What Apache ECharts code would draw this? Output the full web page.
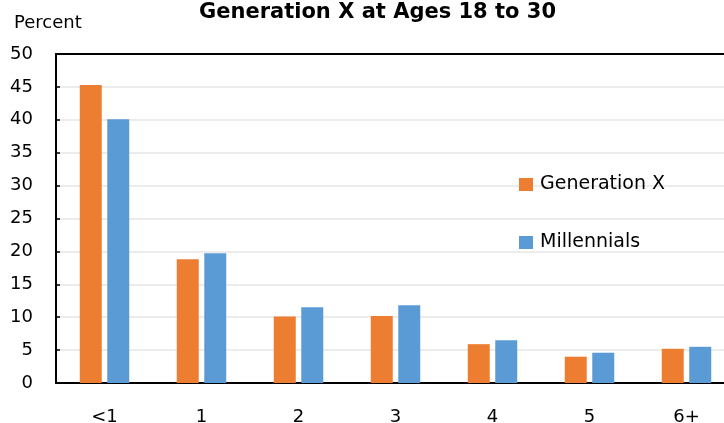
<!DOCTYPE html>
<html>
<head>
<meta charset="utf-8">
<script src="https://cdn.jsdelivr.net/npm/echarts@6/dist/echarts.min.js"></script>
<style>
  html, body { margin: 0; padding: 0; background: #fff; }
  #chart { width: 724px; height: 423px; }
</style>
</head>
<body>
<div id="chart"></div>
<script>
// Years spent at one employer, share of workers ages 18 to 30
const categories = ['<1', '1', '2', '3', '4', '5', '6+'];
const genX = [45.3, 18.8, 10.1, 10.2, 5.9, 4.0, 5.2];
const millennials = [40.1, 19.7, 11.5, 11.8, 6.5, 4.6, 5.5];
const yTicks = { min: 0, max: 50, step: 5 };

const FONT = '"DejaVu Sans", "Open Sans", sans-serif';
const chart = echarts.init(document.getElementById('chart'), null, { renderer: 'canvas' });

const legendItem = (name, top) => ({
  data: [name],
  left: 519,
  top: top,
  padding: 0,
  icon: 'rect',
  itemWidth: 14,
  itemHeight: 13,
  itemGap: 0,
  textStyle: { fontFamily: FONT, fontSize: 19, color: '#000', padding: [0, 0, 0, 2] }
});

chart.setOption({
  animation: false,
  backgroundColor: '#ffffff',
  title: [
    {
      text: 'Generation X at Ages 18 to 30',
      left: 194,
      top: -3,
      textStyle: { fontFamily: FONT, fontSize: 21, fontWeight: 'bold', color: '#000' }
    },
    {
      text: 'Percent',
      left: 9,
      top: 9,
      textStyle: { fontFamily: FONT, fontSize: 18, fontWeight: 'normal', color: '#000' }
    }
  ],
  legend: [
    legendItem('Generation X', 175),
    legendItem('Millennials', 233)
  ],
  grid: {
    left: 56,
    top: 54,
    right: -11,
    bottom: 40,
    outerBoundsMode: 'none',
    containLabel: false,
    show: false
  },
  xAxis: [
    {
      type: 'category',
      data: categories,
      axisLine: { lineStyle: { color: '#000', width: 2 } },
      axisTick: { show: false },
      axisLabel: { fontFamily: FONT, fontSize: 18, color: '#000', margin: 25 }
    },
    {
      // frame line along the top of the plot
      type: 'category',
      data: categories,
      position: 'top',
      axisLine: { show: true, lineStyle: { color: '#000', width: 2 } },
      axisTick: { show: false },
      axisLabel: { show: false },
      splitLine: { show: false }
    }
  ],
  yAxis: {
    type: 'value',
    min: yTicks.min,
    max: yTicks.max,
    interval: yTicks.step,
    axisLine: { show: true, lineStyle: { color: '#000', width: 2 } },
    axisTick: { show: true, inside: true, length: 4, lineStyle: { color: '#000', width: 1.5 } },
    axisLabel: { fontFamily: FONT, fontSize: 18, color: '#000', margin: 23 },
    splitLine: { showMaxLine: false, lineStyle: { color: '#ececec', width: 2 } }
  },
  series: [
    {
      name: 'Generation X',
      type: 'bar',
      data: genX,
      barWidth: 22,
      barGap: '25%',
      itemStyle: { color: '#ED7D31' }
    },
    {
      name: 'Millennials',
      type: 'bar',
      data: millennials,
      barWidth: 22,
      itemStyle: { color: '#5B9BD5' }
    }
  ]
});
</script>
</body>
</html>
